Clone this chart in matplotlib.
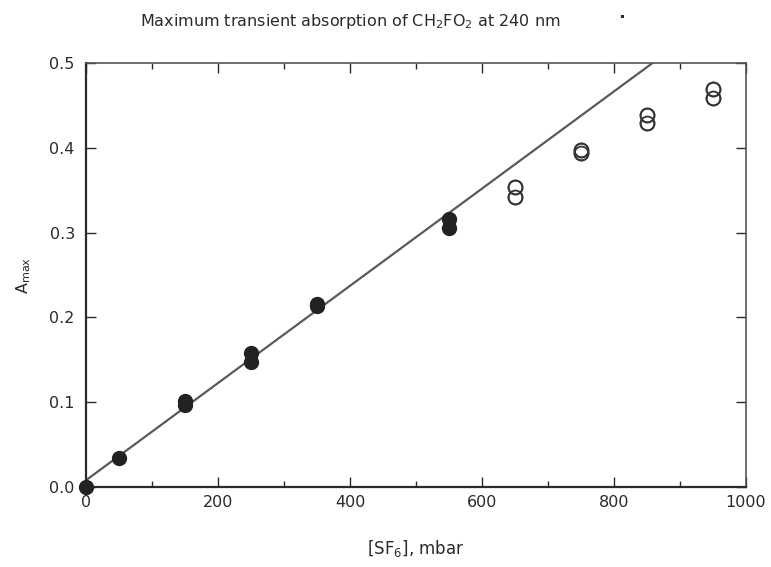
import numpy as np
import matplotlib
matplotlib.use("Agg")
import matplotlib.pyplot as plt
from matplotlib.ticker import MultipleLocator

# SF6 pressure (mbar) and peak absorbance, linear regime (filled)
sf6_lin = [0, 50, 150, 150, 250, 250, 350, 350, 550, 550]
amax_lin = [0.0, 0.034, 0.097, 0.101, 0.147, 0.158, 0.214, 0.216, 0.305, 0.316]

# high-pressure points that fall below the line (open)
sf6_sat = [650, 650, 750, 750, 850, 850, 950, 950]
amax_sat = [0.342, 0.354, 0.394, 0.397, 0.429, 0.439, 0.459, 0.469]

# straight-line fit through the low-pressure data
fit_intercept = 0.008
fit_slope = 5.73e-4

x_ticks = [0, 200, 400, 600, 800, 1000]
y_ticks = [0.0, 0.1, 0.2, 0.3, 0.4, 0.5]

ink = "#2a2a2a"
plt.rcParams["font.family"] = ["DejaVu Sans"]

fig = plt.figure(figsize=(7.71, 5.67), dpi=100)
ax = fig.add_axes([0.1115, 0.141, 0.856, 0.748])

xf = np.linspace(0, 1000, 200)
ax.plot(xf, fit_intercept + fit_slope * xf, color="#5a5a5a", lw=1.6, zorder=2)

ax.plot(sf6_lin, amax_lin, "o", ms=10, color="#222222", mec="#222222", zorder=3, clip_on=False)
ax.plot(sf6_sat, amax_sat, "o", ms=10, mfc="white", mec="#333333", mew=1.3,
        zorder=3, clip_on=False)
ax.plot(sf6_sat, amax_sat, "o", ms=10, mfc="none", mec="#333333", mew=1.3, zorder=4)

ax.set_xlim(0, 1000)
ax.set_ylim(0, 0.5)
ax.set_xticks(x_ticks)
ax.set_yticks(y_ticks)
ax.set_xticklabels([str(v) for v in x_ticks])
ax.set_yticklabels([f"{v:.1f}" for v in y_ticks])
ax.xaxis.set_minor_locator(MultipleLocator(100))

ax.tick_params(which="both", direction="in", top=True, right=True,
               colors=ink, labelcolor=ink, labelsize=11.5)
ax.tick_params(axis="y", pad=8)
ax.tick_params(axis="x", pad=6)
ax.tick_params(which="major", length=7, width=1.0)
ax.tick_params(which="minor", length=4, width=1.0)

for side in ["left", "bottom"]:
    ax.spines[side].set_linewidth(1.6)
    ax.spines[side].set_color(ink)
for side in ["top", "right"]:
    ax.spines[side].set_linewidth(1.2)
    ax.spines[side].set_color("#555555")

ax.set_xlabel(r"[SF$_6$], mbar", fontsize=12, color=ink, labelpad=20)
ax.set_ylabel(r"A$_{\mathrm{max}}$", fontsize=11.5, color=ink, labelpad=12)

fig.text(0.455, 0.962, r"Maximum transient absorption of CH$_2$FO$_2$ at 240 nm",
         ha="center", va="center", fontsize=11.5, color=ink)
fig.text(0.806, 0.962, ".", ha="center", va="bottom", fontsize=13,
         color=ink, fontweight="bold")

fig.savefig("out.png", dpi=100)
